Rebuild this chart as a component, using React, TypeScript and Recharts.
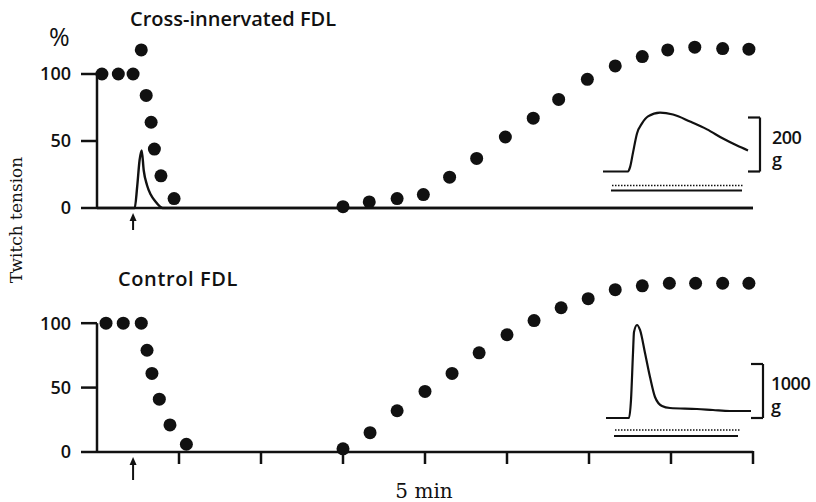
import React from 'react';
import {
  ComposedChart, LineChart, Line, Scatter, XAxis, YAxis, ReferenceLine, ReferenceDot,
} from 'recharts';

// ── data (time in tick units, tension in % of initial) ───────────────────────

const CROSS_T = [0.06, 0.26, 0.44, 0.54, 0.6, 0.66, 0.7, 0.78, 0.94, 3.0, 3.32, 3.66, 3.98, 4.3, 4.63, 4.98, 5.32, 5.63, 5.98, 6.32, 6.65, 6.96, 7.29, 7.63, 7.95];
const CROSS_TENSION = [100, 100, 100, 118, 84, 64, 44, 24, 7, 1, 4.5, 7, 10, 23, 37, 53, 67, 81, 96, 106, 113, 118, 120, 119, 118.5];

const CONTROL_T = [0.11, 0.32, 0.54, 0.61, 0.67, 0.76, 0.89, 1.09, 3.0, 3.33, 3.66, 4.0, 4.33, 4.66, 5.0, 5.33, 5.66, 5.99, 6.32, 6.65, 6.98, 7.3, 7.63, 7.95];
const CONTROL_TENSION = [100, 100, 100, 79, 61, 41, 21, 6, 2.5, 15, 32, 47, 61, 77, 91, 102, 112, 119, 126, 129, 131, 131, 131, 131];

// force trace drawn under the cross-innervated points
const FORCE_T = [0, 0.46, 0.49, 0.52, 0.545, 0.57, 0.61, 0.655, 0.71, 0.77, 0.8, 8];
const FORCE_V = [0, 0, 16, 36, 43, 28, 17, 10, 5, 1, 0, 0];

const STIM_T = 0.44;
const X_TICKS = [1, 2, 3, 4, 5, 6, 7, 8];
const Y_TICKS = [0, 50, 100];

// inset twitches (ms, g)
const CROSS_TW_T = [0, 25, 27, 30, 34, 39, 45, 57, 70, 87, 104, 120, 134, 145];
const CROSS_TW_G = [0, 0, 15, 70, 141, 178, 204, 218, 211, 185, 156, 122, 96, 78];
const CONTROL_TW_T = [0, 23, 25, 27, 28, 31, 34, 39, 44, 49, 56, 64, 91, 107, 124, 145];
const CONTROL_TW_G = [0, 0, 333, 1204, 1593, 1722, 1630, 1204, 759, 389, 222, 185, 167, 148, 130, 130];

const zip = (t: number[], v: number[]) => t.map((x, i) => ({ t: x, v: v[i] }));

const INK = '#111';
const AXIS_W = 2.5;

const Dot = (p: any) => <circle cx={p.cx} cy={p.cy} r={6.5} fill={INK} />;

const Arrow = (p: any) => (
  <g>
    <line x1={p.cx} y1={p.cy + 10} x2={p.cx} y2={p.cy + 29} stroke={INK} strokeWidth={2} />
    <polygon points={`${p.cx},${p.cy + 5} ${p.cx - 3.5},${p.cy + 13} ${p.cx + 3.5},${p.cy + 13}`} fill={INK} />
  </g>
);

// y ticks: mark sticking out left of the axis + label
const YTick = (p: any) => (
  <g>
    <line x1={p.x - 16} y1={p.y} x2={p.x} y2={p.y} stroke={INK} strokeWidth={AXIS_W} />
    <text x={p.x - 26} y={p.y} dy="0.36em" textAnchor="end" fontFamily="Open Sans" fontWeight={600} fontSize={18} fill={INK}>
      {p.payload.value}
    </text>
  </g>
);

// x ticks: mark only, pointing down
const XTick = (p: any) => (
  <line x1={p.x} y1={p.y - 1} x2={p.x} y2={p.y + 12} stroke={INK} strokeWidth={AXIS_W} />
);

function Panel({ pts, trace, showTicks, height, margin }: {
  pts: { t: number; v: number }[];
  trace?: { t: number; v: number }[];
  showTicks: boolean;
  height: number;
  margin: { top: number; right: number; bottom: number; left: number };
}) {
  return (
    <ComposedChart width={816} height={height} margin={margin}>
      <XAxis
        dataKey="t" type="number" domain={[0, 8]} ticks={X_TICKS}
        hide={!showTicks} height={20} tick={XTick} tickSize={0} tickMargin={0} tickLine={false}
        axisLine={{ stroke: INK, strokeWidth: AXIS_W }}
      />
      <YAxis
        type="number" domain={[0, 125]} ticks={Y_TICKS} width={60}
        tickSize={0} tickMargin={0} tick={YTick} axisLine={false} tickLine={false}
      />
      {!showTicks && <ReferenceLine y={0} stroke={INK} strokeWidth={AXIS_W} />}
      <ReferenceLine segment={[{ x: 0, y: 0 }, { x: 0, y: 100 }]} stroke={INK} strokeWidth={AXIS_W} />
      {trace && (
        <Line data={trace} dataKey="v" type="monotone" stroke={INK} strokeWidth={2.4} dot={false} isAnimationActive={false} />
      )}
      <Scatter data={pts} dataKey="v" shape={Dot} isAnimationActive={false} />
      <ReferenceDot x={STIM_T} y={0} r={0} shape={Arrow} />
    </ComposedChart>
  );
}

function Twitch({ data, yDomain, bracket, dotted, solid, width, height }: {
  data: { t: number; v: number }[];
  yDomain: [number, number];
  bracket: number;
  dotted: [number, number, number];
  solid: [number, number, number];
  width: number;
  height: number;
}) {
  const bx = 157;
  return (
    <LineChart width={width} height={height} data={data} margin={{ top: 0, right: 0, bottom: 0, left: 0 }}>
      <XAxis dataKey="t" type="number" domain={[0, 165]} hide />
      <YAxis type="number" domain={yDomain} hide />
      <Line dataKey="v" type="monotone" stroke={INK} strokeWidth={2.2} dot={false} isAnimationActive={false} />
      <ReferenceLine segment={[{ x: bx, y: 0 }, { x: bx, y: bracket }]} stroke={INK} strokeWidth={2.2} />
      <ReferenceLine segment={[{ x: 145, y: 0 }, { x: bx, y: 0 }]} stroke={INK} strokeWidth={2.2} />
      <ReferenceLine segment={[{ x: 145, y: bracket }, { x: bx, y: bracket }]} stroke={INK} strokeWidth={2.2} />
      <ReferenceLine segment={[{ x: dotted[0], y: dotted[2] }, { x: dotted[1], y: dotted[2] }]} stroke={INK} strokeWidth={1.5} strokeDasharray="1.5 1.5" />
      <ReferenceLine segment={[{ x: solid[0], y: solid[2] }, { x: solid[1], y: solid[2] }]} stroke={INK} strokeWidth={2} />
    </LineChart>
  );
}

const abs = (left: number, top: number, extra: React.CSSProperties = {}): React.CSSProperties => ({
  position: 'absolute', left, top, lineHeight: 1, whiteSpace: 'nowrap', color: INK, ...extra,
});

export default function App() {
  const sans: React.CSSProperties = { fontFamily: 'Open Sans', fontWeight: 600 };
  return (
    <div style={{ position: 'absolute', left: 0, top: 0, width: 816, height: 502, background: '#fff', overflow: 'hidden' }}>
      <div style={{ position: 'absolute', left: 0, top: 0 }}>
        <Panel pts={zip(CROSS_T, CROSS_TENSION)} trace={zip(FORCE_T, FORCE_V)} showTicks={false}
          height={230} margin={{ top: 40.5, right: 63, bottom: 22, left: 37 }} />
      </div>
      <div style={{ position: 'absolute', left: 0, top: 250 }}>
        <Panel pts={zip(CONTROL_T, CONTROL_TENSION)} showTicks
          height={230} margin={{ top: 33.25, right: 63, bottom: 8, left: 37 }} />
      </div>

      <div style={{ position: 'absolute', left: 603, top: 104 }}>
        <Twitch data={zip(CROSS_TW_T, CROSS_TW_G)} yDomain={[-100, 250]} bracket={200}
          dotted={[9, 141, -52]} solid={[8, 139, -70]} width={165} height={94.5} />
      </div>
      <div style={{ position: 'absolute', left: 606, top: 310 }}>
        <Twitch data={zip(CONTROL_TW_T, CONTROL_TW_G)} yDomain={[-500, 2000]} bracket={1000}
          dotted={[9, 134, -222]} solid={[8, 132, -333]} width={165} height={135} />
      </div>

      <div style={abs(130, 9, { ...sans, fontSize: 20 })}>Cross-innervated FDL</div>
      <div style={abs(118, 269, { ...sans, fontSize: 20, letterSpacing: 0.6 })}>Control FDL</div>
      <div style={abs(49, 24, { fontFamily: 'Open Sans', fontSize: 25 })}>%</div>
      <div style={abs(772, 126, { ...sans, fontSize: 18, lineHeight: '22px', letterSpacing: -0.5 })}>200<br />g</div>
      <div style={abs(771, 371.5, { ...sans, fontSize: 18, lineHeight: '23px', letterSpacing: -0.5 })}>1000<br />g</div>
      <div style={abs(16, 220, { fontFamily: 'DejaVu Serif', fontSize: 17, transform: 'translate(-50%, -50%) rotate(-90deg)' })}>
        Twitch tension
      </div>
      <div style={abs(424, 491, { fontFamily: 'DejaVu Serif', fontSize: 20, transform: 'translate(-50%, -50%)' })}>5 min</div>
    </div>
  );
}
